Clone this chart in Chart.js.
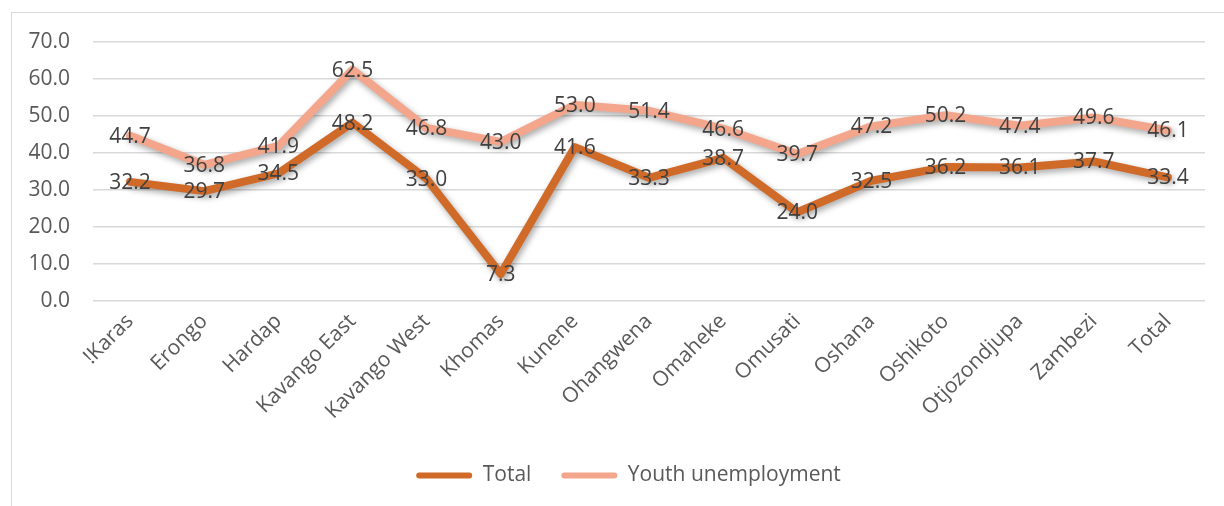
<!DOCTYPE html>
<html>
<head>
<meta charset="utf-8">
<script src="https://cdn.jsdelivr.net/npm/chart.js@4.4.1/dist/chart.umd.min.js"></script>
<style>
  html, body { margin: 0; padding: 0; background: #fff; }
  #wrap { position: relative; width: 1224px; height: 506px; overflow: hidden; }
  #frame { position: absolute; left: 11px; top: 12px; width: 1300px; height: 600px; border: 1.5px solid #d9d9d9; box-sizing: border-box; }
  #grafico { position: absolute; left: 0; top: 0; }
</style>
</head>
<body>
<div id="wrap">
  <div id="frame"></div>
  <canvas id="grafico" width="1224" height="506"></canvas>
</div>
<script>
'use strict';

// regions
const regioni = ['!Karas', 'Erongo', 'Hardap', 'Kavango East', 'Kavango West', 'Khomas', 'Kunene',
  'Ohangwena', 'Omaheke', 'Omusati', 'Oshana', 'Oshikoto', 'Otjozondjupa', 'Zambezi', 'Total'];

// unemployment rate, %
const totale = [32.2, 29.7, 34.5, 48.2, 33.0, 7.3, 41.6, 33.3, 38.7, 24.0, 32.5, 36.2, 36.1, 37.7, 33.4];
const giovani = [44.7, 36.8, 41.9, 62.5, 46.8, 43.0, 53.0, 51.4, 46.6, 39.7, 47.2, 50.2, 47.4, 49.6, 46.1];

const FONT = "'Open Sans', 'Liberation Sans', sans-serif";
const FS = 21;

// soft shadow under the lines (like the office chart)
const ombra = {
  id: 'ombra',
  beforeDatasetDraw(chart) {
    const ctx = chart.ctx;
    ctx.save();
    ctx.shadowColor = 'rgba(0,0,0,0.35)';
    ctx.shadowBlur = 6;
    ctx.shadowOffsetX = 2;
    ctx.shadowOffsetY = 3;
  },
  afterDatasetDraw(chart) { chart.ctx.restore(); }
};

// value labels centred on each point
const etichette = {
  id: 'etichette',
  afterDatasetsDraw(chart) {
    const ctx = chart.ctx;
    ctx.save();
    ctx.font = FS + 'px ' + FONT;
    ctx.fillStyle = '#404040';
    ctx.textAlign = 'center';
    ctx.textBaseline = 'middle';
    chart.data.datasets.forEach((ds, i) => {
      chart.getDatasetMeta(i).data.forEach((pt, j) => {
        ctx.fillText(ds.data[j].toFixed(1), pt.x, pt.y + 1);
      });
    });
    ctx.restore();
  }
};

// legend sits a bit right of centre in the original
const spostaLegenda = {
  id: 'spostaLegenda',
  afterLayout(chart) {
    if (chart.legend) { chart.legend.left += 26; chart.legend.right += 26; }
  }
};

const ctx = document.getElementById('grafico').getContext('2d');

new Chart(ctx, {
  type: 'line',
  data: {
    labels: regioni,
    datasets: [
      {
        label: 'Total',
        data: totale,
        borderColor: '#d06a28',
        backgroundColor: '#d06a28',
        borderWidth: 8,
        pointRadius: 0,
        borderJoinStyle: 'round',
        borderCapStyle: 'round',
        tension: 0
      },
      {
        label: 'Youth unemployment',
        data: giovani,
        borderColor: '#f3a68b',
        backgroundColor: '#f3a68b',
        borderWidth: 8,
        pointRadius: 0,
        borderJoinStyle: 'round',
        borderCapStyle: 'round',
        tension: 0
      }
    ]
  },
  options: {
    responsive: false,
    animation: false,
    layout: { padding: { top: 42, right: 19, bottom: 10, left: 0 } },
    plugins: {
      legend: {
        position: 'bottom',
        labels: {
          color: '#595959',
          font: { family: FONT, size: FS },
          boxWidth: 56,
          boxHeight: 6,
          useBorderRadius: true,
          borderRadius: 3,
          padding: 30,
          generateLabels: chart => chart.data.datasets.map((ds, i) => ({
            text: ds.label,
            fillStyle: ds.borderColor,
            strokeStyle: ds.borderColor,
            lineWidth: 0,
            fontColor: '#595959',
            borderRadius: 3,
            datasetIndex: i
          }))
        }
      },
      tooltip: { enabled: false }
    },
    scales: {
      x: {
        offset: true,
        grid: { display: false, drawTicks: false },
        border: { display: false },
        ticks: {
          color: '#595959',
          font: { family: FONT, size: FS },
          minRotation: 45,
          maxRotation: 45,
          padding: 8,
          autoSkip: false
        },
        afterFit: s => { s.height = 134; }
      },
      y: {
        min: 0,
        max: 70,
        grid: { color: '#d9d9d9', lineWidth: 1.5, drawTicks: false },
        border: { display: false },
        ticks: {
          stepSize: 10,
          color: '#595959',
          font: { family: FONT, size: FS },
          padding: 23,
          callback: v => v.toFixed(1)
        },
        afterFit: s => { s.width = 93; }
      }
    }
  },
  plugins: [ombra, etichette, spostaLegenda]
});
</script>
</body>
</html>
